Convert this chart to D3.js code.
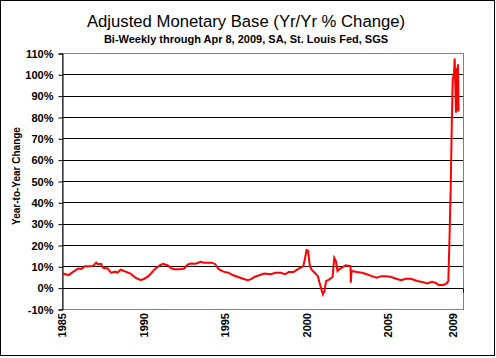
<!DOCTYPE html>
<html><head><meta charset="utf-8">
<script src="https://cdn.jsdelivr.net/npm/d3@7"></script>
<style>body{margin:0;background:#fff}svg{display:block}text{font-family:"Liberation Sans",Arial,sans-serif}</style>
</head><body><svg id="c" width="496" height="358"></svg>
<script>
const years = [1985.05,1985.4,1985.7,1986.0,1986.2,1986.4,1986.7,1986.9,1987.1,1987.2,1987.4,1987.5,1987.8,1988.0,1988.3,1988.4,1988.6,1988.9,1989.2,1989.5,1989.8,1990.0,1990.3,1990.5,1990.7,1991.0,1991.2,1991.5,1991.7,1991.9,1992.2,1992.5,1992.7,1992.9,1993.2,1993.5,1993.7,1994.0,1994.2,1994.4,1994.6,1994.9,1995.2,1995.5,1995.8,1996.1,1996.4,1996.6,1996.8,1997.1,1997.4,1997.8,1998.1,1998.4,1998.7,1998.9,1999.2,1999.5,1999.8,1999.9,2000.0,2000.1,2000.2,2000.3,2000.5,2000.7,2000.8,2001.0,2001.1,2001.2,2001.4,2001.6,2001.7,2001.8,2001.9,2002.0,2002.4,2002.7,2002.72,2002.76,2003.1,2003.4,2003.7,2004.0,2004.3,2004.6,2004.9,2005.2,2005.5,2005.8,2006.1,2006.4,2006.8,2007.1,2007.4,2007.7,2007.9,2008.1,2008.4,2008.6,2008.7,2008.76,2008.85,2008.91,2008.97,2009.05,2009.09,2009.13,2009.17,2009.21,2009.25,2009.29,2009.33];
const values = [6.6,5.9,7.5,9.0,8.8,10.0,10.0,10.2,11.7,11.0,11.2,9.4,9.0,7.0,7.5,7.0,8.4,7.5,6.6,4.7,3.6,3.9,5.4,7.0,8.8,10.4,11.2,10.4,9.0,8.6,8.6,9.0,10.8,11.3,11.2,12.1,11.7,11.7,11.7,11.0,8.8,7.5,7.0,5.8,5.0,4.2,3.5,4.0,5.0,5.8,6.6,6.3,7.0,7.0,6.3,7.3,7.3,8.8,10.0,13.3,17.6,17.2,10.4,8.6,7.0,5.4,2.3,-3.1,-1.6,3.1,3.9,5.0,14.0,12.6,7.8,8.6,10.5,10.1,2.3,7.8,7.3,7.0,6.3,5.4,4.7,5.4,5.4,5.0,4.2,3.5,4.2,4.2,3.1,2.7,2.0,2.8,2.3,1.3,1.3,2.0,3.1,19.5,48.4,75.5,97.6,100.8,107.4,94.5,82,103,83,104.7,82.6];
const yTicks = [-10,0,10,20,30,40,50,60,70,80,90,100,110];
const xTickYears = [1985,1990,1995,2000,2005,2009];
const title = "Adjusted Monetary Base (Yr/Yr % Change)";
const subtitle = "Bi-Weekly through Apr 8, 2009, SA, St. Louis Fed, SGS";
const yLabel = "Year-to-Year Change";

const svg = d3.select("#c");
const L=62, R=463, T=53, B=309;
const x = d3.scaleLinear().domain([1985,2009.6]).range([L,R]);
const y = d3.scaleLinear().domain([-10,110]).range([B,T]);

svg.append("rect").attr("x",0.5).attr("y",0.5).attr("width",494).attr("height",355).attr("fill","#fff").attr("stroke","#000");

svg.append("g").selectAll("line").data(yTicks.filter(d=>d>-10&&d<110)).join("line")
  .attr("x1",L).attr("x2",R).attr("y1",d=>Math.round(y(d))+0.5).attr("y2",d=>Math.round(y(d))+0.5)
  .attr("stroke","#000");
svg.append("rect").attr("x",L+0.5).attr("y",T+0.5).attr("width",R-L).attr("height",B-T)
  .attr("fill","none").attr("stroke","#808080");

const ya = d3.axisLeft(y).tickValues(yTicks).tickSize(4).tickFormat(d=>d+"%");
const yg = svg.append("g").attr("transform",`translate(${L+0.5},0.5)`).call(ya);
yg.select(".domain").attr("stroke","#000");
yg.selectAll("text").attr("font-size",11).attr("font-weight","bold").attr("fill","#000").attr("x",-9);

const y0 = Math.round(y(0))+0.5;
svg.append("line").attr("x1",R+0.5).attr("x2",R+0.5).attr("y1",y0).attr("y2",y0+4).attr("stroke","#000");

svg.append("g").selectAll("text").data(xTickYears).join("text")
  .attr("transform",d=>`translate(${x(d)+4},${B+4}) rotate(-90)`)
  .attr("text-anchor","end").attr("font-size",11).attr("font-weight","bold").text(d=>d);

const line = d3.line().x((d,i)=>x(years[i])).y(d=>y(d));
svg.append("path").datum(values).attr("d",line).attr("fill","none").attr("stroke","#ff0000").attr("stroke-width",2);

svg.append("text").attr("x",246).attr("y",27).attr("text-anchor","middle").attr("font-size",16.7).text(title);
svg.append("text").attr("x",246).attr("y",43).attr("text-anchor","middle").attr("font-size",11).attr("font-weight","bold").text(subtitle);
svg.append("text").attr("transform","translate(20,176) rotate(-90)").attr("text-anchor","middle").attr("font-size",10).attr("font-weight","bold").text(yLabel);
</script></body></html>
